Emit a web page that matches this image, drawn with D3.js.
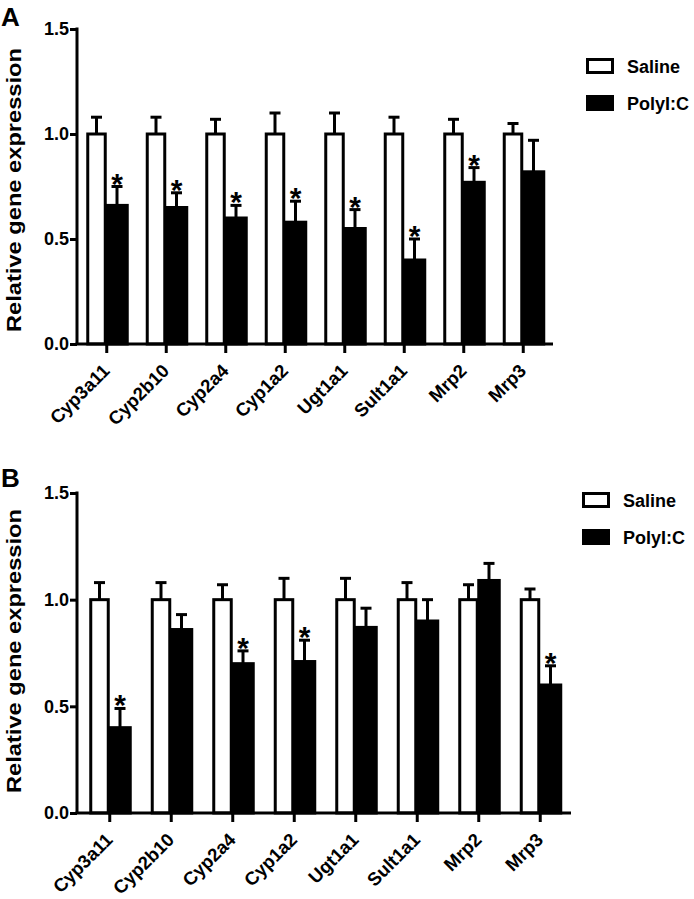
<!DOCTYPE html>
<html><head><meta charset="utf-8">
<script src="https://cdn.jsdelivr.net/npm/d3@7"></script>
<style>
html,body{margin:0;padding:0;background:#fff;}
text{font-family:"Liberation Sans",Arial,Helvetica,sans-serif;font-weight:bold;fill:#000;}
</style></head>
<body>
<svg id="chart" width="694" height="899"></svg>
<script>
// ---------- DATA ----------
const genes = ["Cyp3a11","Cyp2b10","Cyp2a4","Cyp1a2","Ugt1a1","Sult1a1","Mrp2","Mrp3"];
const seriesNames = ["Saline","PolyI:C"];
const yTicks = [0, 0.5, 1.0, 1.5];

const salineA    = [1.00,1.00,1.00,1.00,1.00,1.00,1.00,1.00];
const salineErrA = [0.08,0.08,0.07,0.10,0.10,0.08,0.07,0.05];
const polyA      = [0.66,0.65,0.60,0.58,0.55,0.40,0.77,0.82];
const polyErrA   = [0.09,0.07,0.06,0.10,0.09,0.10,0.07,0.15];
const sigA       = [true,true,true,true,true,true,true,false];

const salineB    = [1.00,1.00,1.00,1.00,1.00,1.00,1.00,1.00];
const salineErrB = [0.08,0.08,0.07,0.10,0.10,0.08,0.07,0.05];
const polyB      = [0.40,0.86,0.70,0.71,0.87,0.90,1.09,0.60];
const polyErrB   = [0.09,0.07,0.06,0.10,0.09,0.10,0.08,0.09];
const sigB       = [true,false,true,true,false,false,false,true];

// ---------- LAYOUT ----------
const panels = [
  {label:"A", saline:salineA, salineErr:salineErrA, poly:polyA, polyErr:polyErrA, sig:sigA,
   axisX:77, x0:77, x1:553, yTop:29, yBot:344, labelY:26, ylabelC:190,
   legX:586, legY:58},
  {label:"B", saline:salineB, salineErr:salineErrB, poly:polyB, polyErr:polyErrB, sig:sigB,
   axisX:77, x0:79, x1:571, yTop:493, yBot:813, labelY:487, ylabelC:651,
   legX:582, legY:492}
];

const svg = d3.select("#chart");
const SW = 3;

panels.forEach(p => {
  const g = svg.append("g");
  const x = d3.scaleBand().domain(genes).range([p.x0, p.x1]).padding(0);
  const y = d3.scaleLinear().domain([0, 1.5]).range([p.yBot, p.yTop]);
  const bw = 20.5;
  const xs = d3.scaleBand().domain(seriesNames)
      .range([x.bandwidth()/2 - bw, x.bandwidth()/2 + bw]).padding(0);

  const rows = genes.map((gname, i) => ({gene:gname, i,
    vals:[{s:"Saline", v:p.saline[i], e:p.salineErr[i], sig:false},
          {s:"PolyI:C", v:p.poly[i], e:p.polyErr[i], sig:p.sig[i]}]}));

  const grp = g.selectAll("g.grp").data(rows).join("g")
    .attr("transform", d => `translate(${x(d.gene)},0)`);

  // error bars (upper only) and significance stars
  grp.selectAll("g.err").data(d => d.vals).join("g").each(function(d){
    const cx = xs(d.s) + xs.bandwidth()/2;
    const e = d3.select(this);
    e.append("line").attr("x1",cx).attr("x2",cx).attr("y1",y(d.v)).attr("y2",y(d.v+d.e))
      .attr("stroke","#000").attr("stroke-width",SW);
    e.append("line").attr("x1",cx-5.5).attr("x2",cx+5.5).attr("y1",y(d.v+d.e)).attr("y2",y(d.v+d.e))
      .attr("stroke","#000").attr("stroke-width",SW);
    if (d.sig) {
      e.append("text").attr("x",cx).attr("y",y(d.v+d.e)+7)
        .attr("text-anchor","middle").style("font-size","30px").text("*");
    }
  });

  grp.selectAll("rect.bar").data(d => d.vals).join("rect")
    .attr("x", d => xs(d.s) + (d.s==="Saline" ? SW/2 : 0))
    .attr("width", d => xs.bandwidth() - (d.s==="Saline" ? SW : 0))
    .attr("y", d => y(d.v))
    .attr("height", d => y(0) - y(d.v))
    .attr("fill", d => d.s==="Saline" ? "#fff" : "#000")
    .attr("stroke","#000").attr("stroke-width",SW);

  // y axis
  const yAxis = d3.axisLeft(y).tickValues(yTicks).tickFormat(d3.format(".1f")).tickSize(7).tickPadding(1);
  const ya = g.append("g").attr("transform",`translate(${p.axisX},0)`).call(yAxis);
  ya.select(".domain").remove();
  ya.append("line").attr("x1",0).attr("x2",0).attr("y1",p.yTop-1.5).attr("y2",p.yBot)
    .attr("stroke","#000").attr("stroke-width",SW);
  ya.selectAll(".tick line").attr("stroke","#000").attr("stroke-width",SW);
  ya.selectAll(".tick text").style("font-size","18px").attr("fill","#000")
    .style("font-family","'Liberation Sans',Arial,sans-serif").style("font-weight","bold");

  // x axis
  const xAxis = d3.axisBottom(x).tickSize(9).tickFormat("");
  const xa = g.append("g").attr("transform",`translate(0,${p.yBot})`).call(xAxis);
  xa.select(".domain").remove();
  xa.selectAll(".tick text").remove();
  xa.append("line").attr("x1",p.axisX-1.5).attr("x2",p.x1).attr("y1",0).attr("y2",0)
    .attr("stroke","#000").attr("stroke-width",SW);
  xa.selectAll(".tick line").attr("stroke","#000").attr("stroke-width",SW);

  // rotated category labels
  g.append("g").selectAll("text.xl").data(genes).join("text")
    .attr("class","xl")
    .attr("transform", d => `translate(${x(d) + x.bandwidth()/2 + 4},${p.yBot + 28}) rotate(-45)`)
    .attr("text-anchor","end")
    .style("font-size","18.5px")
    .text(d => d);

  // y label
  g.append("text")
    .attr("transform",`translate(21,${p.ylabelC}) rotate(-90)`)
    .attr("text-anchor","middle")
    .attr("textLength",284).attr("lengthAdjust","spacingAndGlyphs")
    .style("font-size","20px")
    .text("Relative gene expression");

  // panel letter
  g.append("text").attr("x",1).attr("y",p.labelY).style("font-size","26px").text(p.label);

  // legend
  const leg = g.append("g").attr("transform",`translate(${p.legX},${p.legY})`);
  seriesNames.forEach((s, i) => {
    const ly = i * 37;
    leg.append("rect").attr("x",1.5).attr("y",ly+1.5).attr("width",25).attr("height",13)
      .attr("fill", s==="Saline" ? "#fff" : "#000").attr("stroke","#000").attr("stroke-width",SW);
    leg.append("text").attr("x",41).attr("y",ly+15).style("font-size","18px").text(s);
  });
});
</script>
</body></html>
